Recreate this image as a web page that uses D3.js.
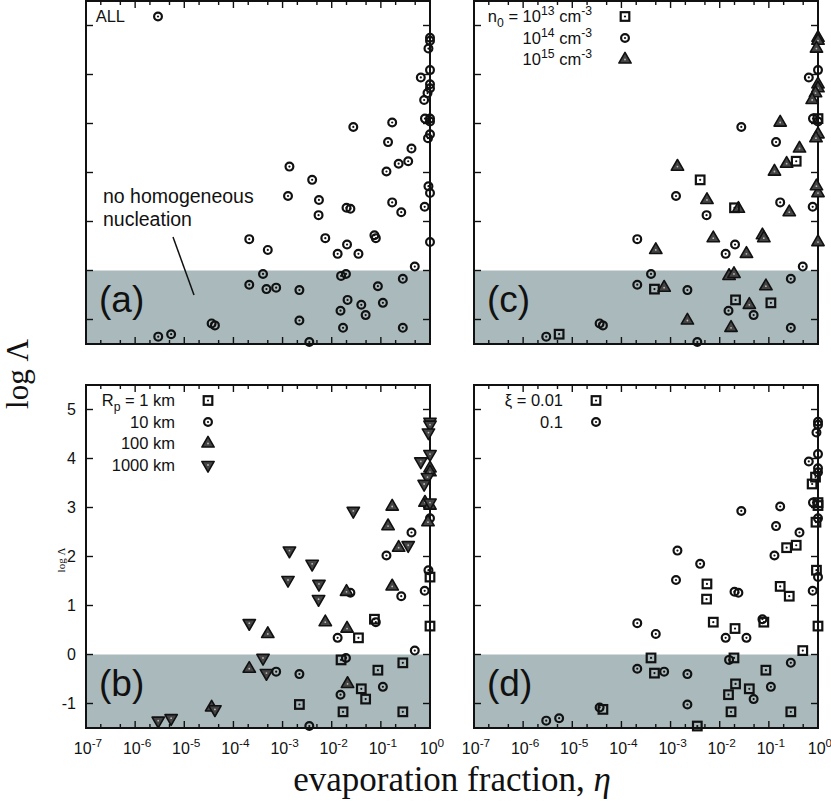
<!DOCTYPE html>
<html>
<head>
<meta charset="utf-8">
<script src="https://cdn.jsdelivr.net/npm/d3@7/dist/d3.min.js"></script>
<style>
  body { margin: 0; background: #fff; }
  svg { display: block; }
  text { font-family: 'Liberation Sans', Arial, sans-serif; fill: #111; }
  .serif { font-family: 'Liberation Serif', 'Times New Roman', serif; }
</style>
</head>
<body>
<div id="chart"></div>
<script>
// one entry per simulation: evaporation fraction, log Lambda and the three parameters
const eta = [
  0.074, 0.035, 1, 1, 0.0155, 0.087, 0.28, 0.040, 0.049, 0.0022, 0.017, 0.28,
  0.13, 0.42, 1, 0.93, 0.78, 0.26, 0.024, 0.079, 0.0132, 0.49, 0.0195, 0.00074, 0.0022, 0.11, 0.0151, 0.0035,
  0.17, 0.14, 0.23, 0.17, 0.020, 0.0074, 0.0205, 0.00050, 0.00021, 0.021, 0.000036, 1, 1, 0.79, 1, 0.91,
  0.0275, 0.00138, 0.0040, 0.00129, 0.0055, 0.0054, 0.00021, 0.00040, 0.00047, 0.000042, 0.00000295, 0.0000054, 0.36,
  1, 1, 0.93, 1, 0.65, 0.89, 0.76, 1
]
const logLambda = [
  0.72, 0.34, 1.58, 0.58, -0.11, -0.32, -0.17, -0.70, -0.91, -1.02, -1.17, -1.17,
  2.02, 2.49, 2.78, 1.72, 1.30, 1.19, 1.26, 0.66, 0.34, 0.08, -0.07, -0.35, -0.40, -0.66, -0.82, -1.46,
  3.02, 2.62, 2.18, 1.39, 1.28, 0.66, 0.53, 0.42, -0.29, -0.60, -1.08, 3.80, 3.72, 3.10, 3.04, 2.70,
  2.93, 2.12, 1.85, 1.52, 1.44, 1.13, 0.64, -0.07, -0.38, -1.12, -1.35, -1.30, 2.23,
  4.75, 4.69, 4.53, 4.09, 3.94, 3.62, 3.48, 3.10
]
const rp = [
  1, 1, 1, 1, 1, 1, 1, 1, 1, 1, 1, 1,
  10, 10, 10, 10, 10, 10, 10, 10, 10, 10, 10, 10, 10, 10, 10, 10,
  100, 100, 100, 100, 100, 100, 100, 100, 100, 100, 100, 100, 100, 100, 100, 100,
  1000, 1000, 1000, 1000, 1000, 1000, 1000, 1000, 1000, 1000, 1000, 1000, 1000,
  1000, 1000, 1000, 1000, 1000, 1000, 1000, 1000
]
const n0Exp = [
  15, 15, 15, 15, 15, 15, 14, 15, 14, 15, 15, 14,
  15, 15, 15, 15, 14, 15, 15, 15, 14, 14, 15, 15, 14, 13, 14, 14,
  15, 14, 15, 14, 13, 15, 14, 15, 14, 13, 14, 15, 15, 14, 14, 15,
  14, 15, 13, 14, 15, 14, 14, 14, 13, 14, 14, 13, 13,
  15, 15, 15, 14, 14, 15, 15, 13
]
const xi = [
  0.1, 0.1, 0.1, 0.01, 0.1, 0.01, 0.1, 0.01, 0.1, 0.1, 0.01, 0.01,
  0.1, 0.1, 0.1, 0.01, 0.1, 0.01, 0.1, 0.01, 0.1, 0.01, 0.01, 0.1, 0.1, 0.1, 0.01, 0.01,
  0.1, 0.1, 0.01, 0.01, 0.1, 0.01, 0.01, 0.1, 0.1, 0.01, 0.1, 0.1, 0.1, 0.1, 0.01, 0.01,
  0.1, 0.1, 0.1, 0.1, 0.01, 0.01, 0.1, 0.01, 0.01, 0.01, 0.1, 0.1, 0.01,
  0.1, 0.1, 0.1, 0.1, 0.1, 0.01, 0.01, 0.01
]

// axis ranges and ticks
const etaDomain = [1e-7, 1]
const logLambdaDomain = [-1.5, 5.5]
const yTicks = [-1, 0, 1, 2, 3, 4, 5]
const decades = [-7, -6, -5, -4, -3, -2, -1, 0]
const minorMult = [2, 5]

// legend entries
const rpKeys = [1, 10, 100, 1000]
const rpLabels = [
  [['R'], ['p', 'sub'], [' = 1 km']],
  [['10 km']],
  [['100 km']],
  [['1000 km']]
]
const n0Keys = [13, 14, 15]
const n0Labels = [
  [['n'], ['0', 'sub'], [' = 10'], ['13', 'sup'], [' cm'], ['-3', 'sup']],
  [['10'], ['14', 'sup'], [' cm'], ['-3', 'sup']],
  [['10'], ['15', 'sup'], [' cm'], ['-3', 'sup']]
]
const xiKeys = [0.01, 0.1]
const xiLabels = [[['ξ = 0.01']], [['0.1']]]

const W = 344
const H = 343

const svg = d3.select('#chart').append('svg')
  .attr('width', 831)
  .attr('height', 808)

const x = d3.scaleLog().domain(etaDomain).range([0, W])
const y = d3.scaleLinear().domain(logLambdaDomain).range([H, 0])

const points = eta.map((e, i) => ({
  eta: e, logL: logLambda[i], rp: rp[i], n0: n0Exp[i], xi: xi[i]
}))

function rich (sel, segs, size) {
  let shift = 0
  segs.forEach(([t, kind]) => {
    let target = kind === 'sup' ? -0.42 * size : kind === 'sub' ? 0.3 * size : 0
    sel.append('tspan')
      .attr('dy', target - shift)
      .attr('font-size', kind ? size * 0.74 : size)
      .text(t)
    shift = target
  })
}

function marker (g, type, cx, cy) {
  let m = g.append('g').attr('transform', 'translate(' + cx + ',' + cy + ')')
  if (type === 'circle') {
    m.append('circle').attr('r', 3.9)
      .attr('fill', 'none').attr('stroke', '#111').attr('stroke-width', 2.2)
    m.append('circle').attr('r', 1.1).attr('fill', '#111')
  } else if (type === 'square') {
    m.append('rect').attr('x', -4.3).attr('y', -4.3).attr('width', 8.6).attr('height', 8.6)
      .attr('fill', 'none').attr('stroke', '#111').attr('stroke-width', 2.2)
    m.append('circle').attr('r', 1.1).attr('fill', '#111')
  } else {
    m.append('path')
      .attr('d', d3.symbol(d3.symbolTriangle).size(66)())
      .attr('transform', type === 'down' ? 'rotate(180)' : null)
      .attr('fill', '#444').attr('stroke', '#111').attr('stroke-width', 1.6)
      .attr('stroke-linejoin', 'round')
    m.append('circle').attr('r', 0.9).attr('fill', '#bbb')
  }
}

function drawPanel (p) {
  let g = svg.append('g').attr('transform', 'translate(' + p.left + ',' + p.top + ')')

  // no-nucleation band
  g.append('rect')
    .attr('x', 0).attr('y', y(0))
    .attr('width', W).attr('height', H - y(0))
    .attr('fill', '#a9b9bc')

  // ticks on all four sides
  let ticks = g.append('g').attr('stroke', '#111').attr('stroke-width', 1.4)
  decades.forEach(k => {
    let xv = x(Math.pow(10, k))
    ticks.append('line').attr('x1', xv).attr('x2', xv).attr('y1', H).attr('y2', H - 7)
    ticks.append('line').attr('x1', xv).attr('x2', xv).attr('y1', 0).attr('y2', 7)
    if (k < 0) {
      minorMult.forEach(m => {
        let xm = x(m * Math.pow(10, k))
        ticks.append('line').attr('x1', xm).attr('x2', xm).attr('y1', H).attr('y2', H - 4)
        ticks.append('line').attr('x1', xm).attr('x2', xm).attr('y1', 0).attr('y2', 4)
      })
    }
  })
  yTicks.forEach(v => {
    ticks.append('line').attr('x1', 0).attr('x2', 7).attr('y1', y(v)).attr('y2', y(v))
    ticks.append('line').attr('x1', W).attr('x2', W - 7).attr('y1', y(v)).attr('y2', y(v))
  })

  g.append('rect')
    .attr('width', W).attr('height', H)
    .attr('fill', 'none').attr('stroke', '#111').attr('stroke-width', 2)

  if (p.xLabels) {
    decades.forEach(k => {
      let t = g.append('text')
        .attr('x', x(Math.pow(10, k)) + 2)
        .attr('y', H + 26)
        .attr('text-anchor', 'middle')
      rich(t, [['10'], [String(k), 'sup']], 16)
    })
  }
  if (p.yLabels) {
    yTicks.forEach(v => {
      g.append('text')
        .attr('x', -10).attr('y', y(v) + 5.5)
        .attr('text-anchor', 'end')
        .attr('font-size', 16)
        .text(v)
    })
  }

  // panel letter
  g.append('text')
    .attr('x', 13).attr('y', 311)
    .attr('font-size', 37)
    .text('(' + p.id + ')')

  // legend
  p.keys.forEach((k, i) => {
    let ly = 15.5 + 21.5 * i
    let t = g.append('text')
      .attr('x', p.keyX - 33)
      .attr('y', ly + 5.8)
      .attr('text-anchor', 'end')
    rich(t, p.labels[i], 16.5)
    marker(g, p.shape(k), p.keyX, ly)
  })

  points.forEach(d => marker(g, p.shape(d[p.field]), x(d.eta), y(d.logL)))
  return g
}

const rpShape = { 1: 'square', 10: 'circle', 100: 'up', 1000: 'down' }
const n0Shape = { 13: 'square', 14: 'circle', 15: 'up' }
const xiShape = { 0.01: 'square', 0.1: 'circle' }

let ga = drawPanel({
  id: 'a', left: 86, top: 1, field: 'rp', shape: () => 'circle',
  keys: ['all'], labels: [[['ALL']]], keyX: 72
})
drawPanel({
  id: 'c', left: 474, top: 1, field: 'n0', shape: k => n0Shape[k],
  keys: n0Keys, labels: n0Labels, keyX: 151
})
drawPanel({
  id: 'b', left: 86, top: 385, field: 'rp', shape: k => rpShape[k],
  keys: rpKeys, labels: rpLabels, keyX: 122, xLabels: true, yLabels: true
})
drawPanel({
  id: 'd', left: 474, top: 385, field: 'xi', shape: k => xiShape[k],
  keys: xiKeys, labels: xiLabels, keyX: 122, xLabels: true
})

// annotation in panel (a)
ga.append('text').attr('x', 17).attr('y', 202).attr('font-size', 19.5).text('no homogeneous')
ga.append('text').attr('x', 17).attr('y', 225).attr('font-size', 19.5).text('nucleation')
ga.append('line')
  .attr('x1', 87).attr('y1', 236).attr('x2', 108).attr('y2', 294)
  .attr('stroke', '#111').attr('stroke-width', 1.5)

// axis titles
svg.append('text')
  .attr('class', 'serif')
  .attr('transform', 'translate(28,374) rotate(-90)')
  .attr('text-anchor', 'middle')
  .attr('font-size', 31)
  .text('log Λ')
svg.append('text')
  .attr('class', 'serif')
  .attr('transform', 'translate(65,560) rotate(-90)')
  .attr('text-anchor', 'middle')
  .attr('font-size', 11)
  .text('log Λ')

let xt = svg.append('text')
  .attr('class', 'serif')
  .attr('x', 452).attr('y', 791)
  .attr('text-anchor', 'middle')
  .attr('font-size', 35)
xt.append('tspan').text('evaporation fraction,  ')
xt.append('tspan').attr('font-style', 'italic').text('η')
</script>
</body>
</html>
